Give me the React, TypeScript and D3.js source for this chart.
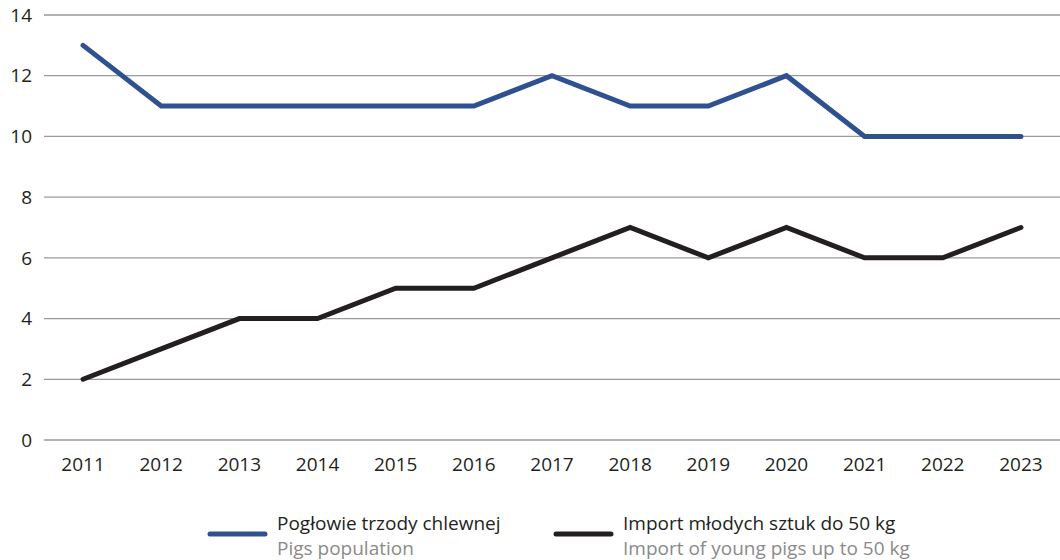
import React, { useEffect, useRef } from 'react';
import * as d3 from 'd3';

const years = ['2011', '2012', '2013', '2014', '2015', '2016', '2017', '2018', '2019', '2020', '2021', '2022', '2023'];
const pigsPopulation = [13, 11, 11, 11, 11, 11, 12, 11, 11, 12, 10, 10, 10];
const youngPigsImport = [2, 3, 4, 4, 5, 5, 6, 7, 6, 7, 6, 6, 7];
const yTicks = [0, 2, 4, 6, 8, 10, 12, 14];

const legendItems = [
  { pl: 'Pogłowie trzody chlewnej', en: 'Pigs population', color: '#2f5190' },
  { pl: 'Import młodych sztuk do 50 kg', en: 'Import of young pigs up to 50 kg', color: '#231f20' },
];

const App = () => {
  const svgRef = useRef(null);
  const width = 1060;
  const height = 560;

  useEffect(() => {
    const svg = d3.select(svgRef.current);
    svg.selectAll('*').remove();

    const font = '"Open Sans", "Noto Sans", sans-serif';

    const x = d3.scaleBand().domain(years).range([44, 1060]);
    const y = d3.scaleLinear().domain([0, 14]).range([440, 15]);
    const cx = (d: string) => (x(d) as number) + x.bandwidth() / 2;

    // grid + y labels
    const grid = svg.append('g');
    grid.selectAll('line')
      .data(yTicks)
      .join('line')
      .attr('x1', 44)
      .attr('x2', 1060)
      .attr('y1', d => y(d))
      .attr('y2', d => y(d))
      .attr('stroke', '#9a9a9a')
      .attr('stroke-width', 1.3);

    grid.selectAll('text')
      .data(yTicks)
      .join('text')
      .attr('x', 32)
      .attr('y', d => y(d))
      .attr('dy', '0.35em')
      .attr('text-anchor', 'end')
      .attr('font-family', font)
      .attr('font-size', 19)
      .attr('fill', '#231f20')
      .text(d => d);

    // x labels
    svg.append('g')
      .selectAll('text')
      .data(years)
      .join('text')
      .attr('x', d => cx(d))
      .attr('y', 471)
      .attr('text-anchor', 'middle')
      .attr('font-family', font)
      .attr('font-size', 19)
      .attr('fill', '#231f20')
      .text(d => d);

    const line = d3.line<number>()
      .x((_, i) => cx(years[i]))
      .y(d => y(d));

    [pigsPopulation, youngPigsImport].forEach((series, i) => {
      svg.append('path')
        .datum(series)
        .attr('fill', 'none')
        .attr('stroke', legendItems[i].color)
        .attr('stroke-width', 5)
        .attr('stroke-linejoin', 'miter')
        .attr('stroke-linecap', 'round')
        .attr('d', line);
    });

    // legend
    const legendX = [210, 556];
    legendItems.forEach((item, i) => {
      const g = svg.append('g').attr('transform', `translate(${legendX[i]}, 0)`);
      g.append('line')
        .attr('x1', 0)
        .attr('x2', 55)
        .attr('y1', 534)
        .attr('y2', 534)
        .attr('stroke', item.color)
        .attr('stroke-width', 5)
        .attr('stroke-linecap', 'round');
      g.append('text')
        .attr('x', 67)
        .attr('y', 530)
        .attr('font-family', font)
        .attr('font-size', 19)
        .attr('fill', '#231f20')
        .text(item.pl);
      g.append('text')
        .attr('x', 67)
        .attr('y', 555)
        .attr('font-family', font)
        .attr('font-size', 19)
        .attr('fill', '#8a8a8a')
        .text(item.en);
    });
  }, []);

  return (
    <svg
      ref={svgRef}
      width={width}
      height={height}
      style={{ position: 'absolute', left: 0, top: 0, background: '#fff' }}
    />
  );
};

export default App;
